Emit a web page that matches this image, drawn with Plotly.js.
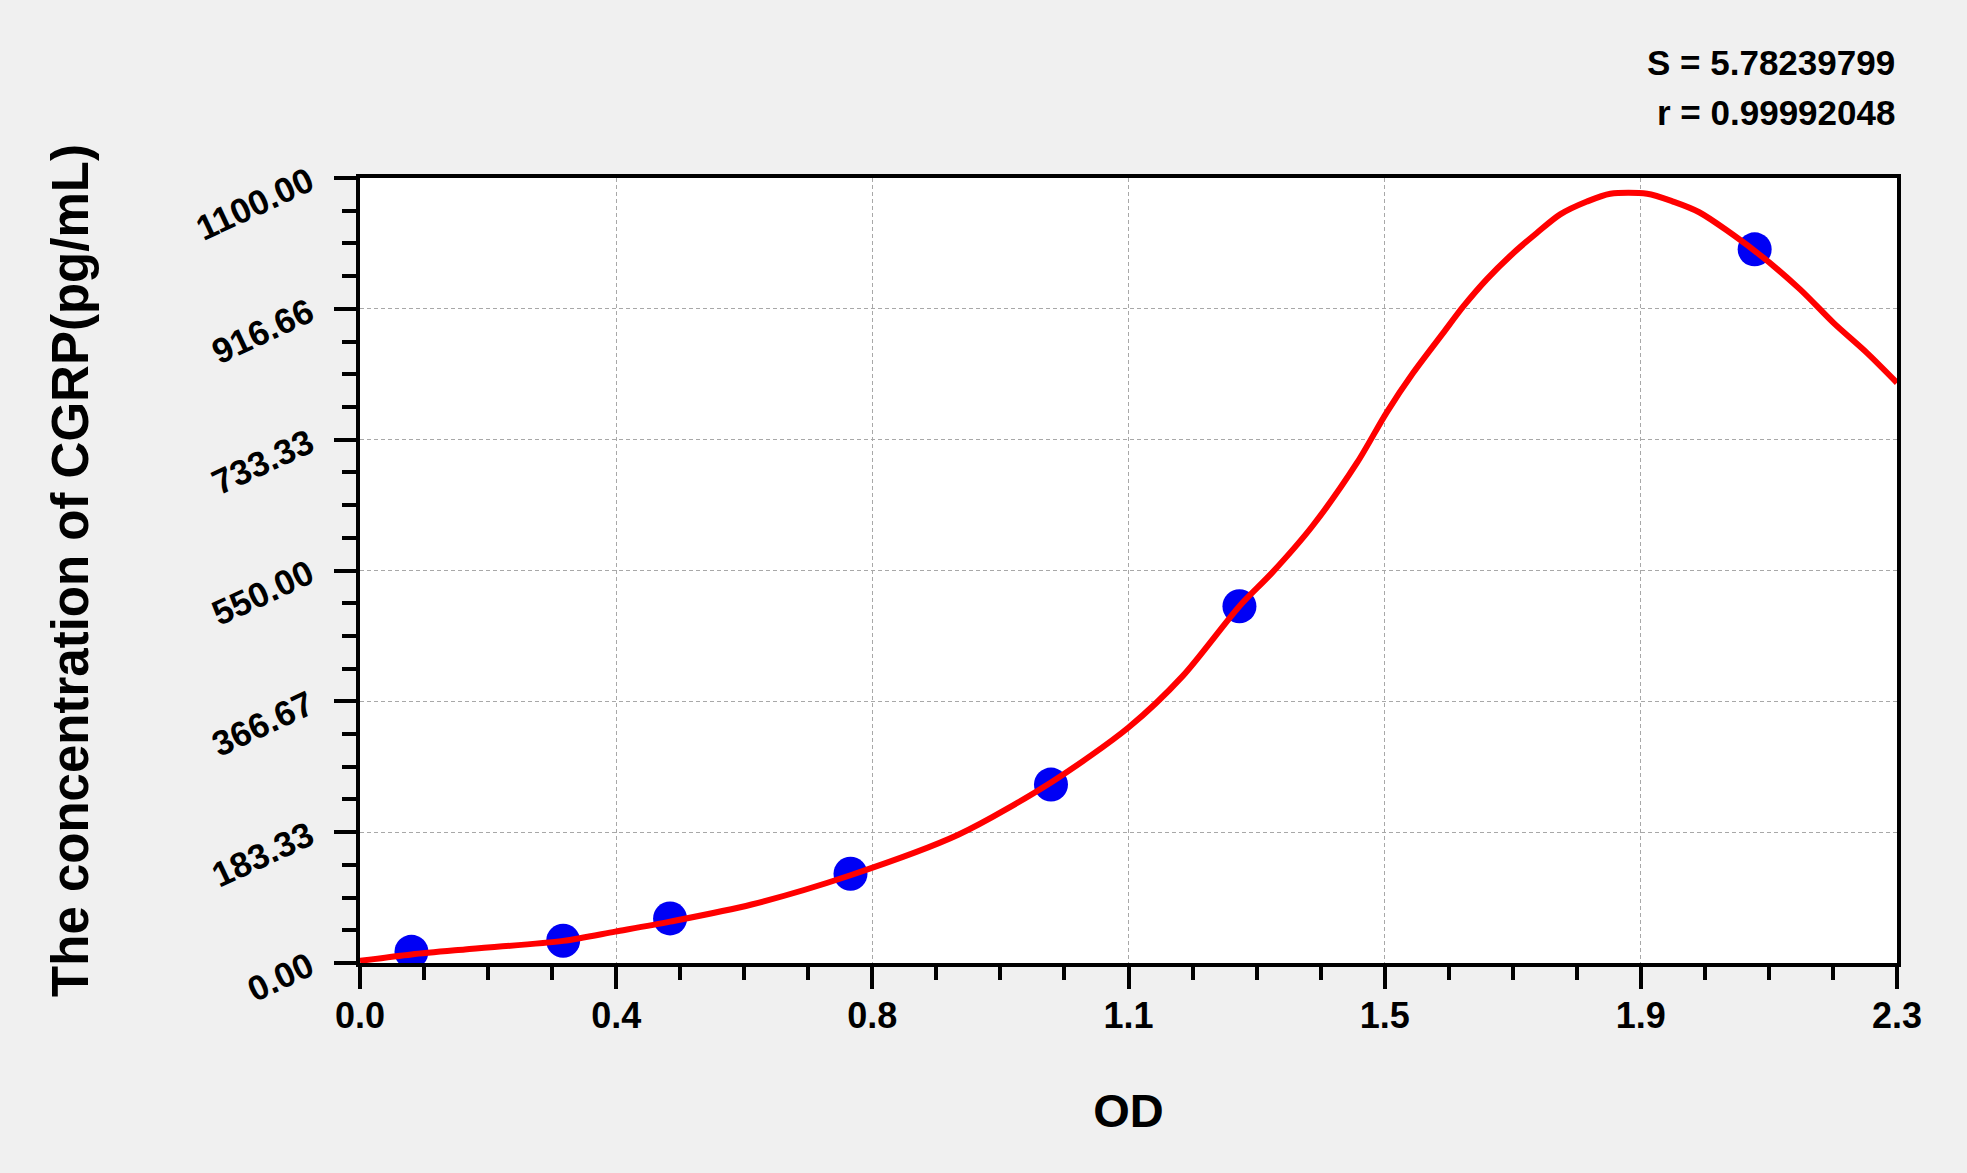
<!DOCTYPE html>
<html>
<head>
<meta charset="utf-8">
<script src="https://cdn.plot.ly/plotly-3.0.1.min.js"></script>
<style>
  html, body { margin: 0; padding: 0; background: #f0f0f0; }
  #chart { width: 1967px; height: 1173px; }
</style>
</head>
<body>
<div id="chart"></div>
<script>
// Standard points (OD vs concentration)
const standardOD = [0.077, 0.304, 0.464, 0.734, 1.034, 1.316, 2.087];
const standardConc = [15.6, 31.25, 62.5, 125, 250, 500, 1000];

// Fitted curve
const curveOD = [0, 0.077, 0.157, 0.304, 0.382, 0.464, 0.586, 0.734, 0.896,
  1.034, 1.15, 1.231, 1.316, 1.365, 1.425, 1.492, 1.536, 1.576, 1.621, 1.651,
  1.686, 1.726, 1.761, 1.796, 1.836, 1.871, 1.926, 1.965, 2.004, 2.087, 2.155,
  2.205, 2.255, 2.3];
const curveConc = [3, 12, 19, 31, 44, 58, 82, 123, 180,
  253, 330, 402, 500, 547, 612, 701, 771, 827, 883, 920,
  958, 995, 1023, 1049, 1067, 1078, 1078, 1067, 1052, 998, 944,
  897, 855, 813];

// Axis labels
const xTickText = ["0.0", "0.4", "0.8", "1.1", "1.5", "1.9", "2.3"];
const yTickText = ["0.00", "183.33", "366.67", "550.00", "733.33", "916.66", "1100.00"];
const xMax = 2.3;
const yMax = 1100;

const statLines = ["S = 5.78239799", "r = 0.99992048"];

const FONT = "Liberation Sans, Arial, sans-serif";

const xTickVals = xTickText.map((t, i) => (i * xMax) / (xTickText.length - 1));
const yTickVals = yTickText.map((t, i) => (i * yMax) / (yTickText.length - 1));

const points = {
  x: standardOD,
  y: standardConc,
  mode: "markers",
  type: "scatter",
  marker: { color: "#0000f5", size: 34 },
  hoverinfo: "x+y",
};

const fit = {
  x: curveOD,
  y: curveConc,
  mode: "lines",
  type: "scatter",
  line: { color: "#ff0000", width: 6, shape: "spline", smoothing: 0.8 },
};

const axisCommon = {
  showline: true,
  linecolor: "#000",
  linewidth: 4,
  mirror: true,
  ticks: "outside",
  ticklen: 22,
  tickwidth: 3.5,
  tickcolor: "#000",
  showgrid: true,
  gridcolor: "#a8a8a8",
  gridwidth: 1,
  griddash: "4px,3px",
  zeroline: false,
  tickmode: "array",
};

const layout = {
  width: 1967,
  height: 1173,
  paper_bgcolor: "#f0f0f0",
  plot_bgcolor: "#ffffff",
  showlegend: false,
  margin: { l: 360, r: 70, t: 178, b: 210 },
  xaxis: Object.assign({}, axisCommon, {
    range: [0, xMax],
    tickvals: xTickVals,
    ticktext: xTickText,
    ticklabelstandoff: -4,
    tickfont: { family: FONT, size: 36, color: "#000", weight: "bold" },
    minor: { tick0: 0, dtick: xMax / 24, ticks: "outside", ticklen: 13, tickwidth: 3.5, tickcolor: "#000", showgrid: false },
    title: {
      text: "OD",
      font: { family: FONT, size: 47, color: "#000", weight: "bold" },
      standoff: 60,
    },
  }),
  yaxis: Object.assign({}, axisCommon, {
    range: [0, yMax],
    tickvals: yTickVals,
    ticktext: yTickText,
    tickangle: -25,
    ticklabelstandoff: 18,
    tickfont: { family: FONT, size: 35, color: "#000", weight: "bold" },
    minor: { tick0: 0, dtick: yMax / 24, ticks: "outside", ticklen: 14, tickwidth: 3.5, tickcolor: "#000", showgrid: false },
    title: {
      text: "The concentration of CGRP(pg/mL)",
      font: { family: FONT, size: 51, color: "#000", weight: "bold" },
      standoff: 86,
    },
  }),
  annotations: statLines.map((t, i) => ({
    text: t,
    xref: "paper",
    yref: "paper",
    x: 1,
    y: 1.147 - i * 0.0635,
    xanchor: "right",
    yanchor: "middle",
    showarrow: false,
    font: { family: FONT, size: 35, color: "#000", weight: "bold" },
  })),
};

const config = { responsive: false, displayModeBar: false };

Plotly.newPlot("chart", [points, fit], layout, config);
</script>
</body>
</html>
